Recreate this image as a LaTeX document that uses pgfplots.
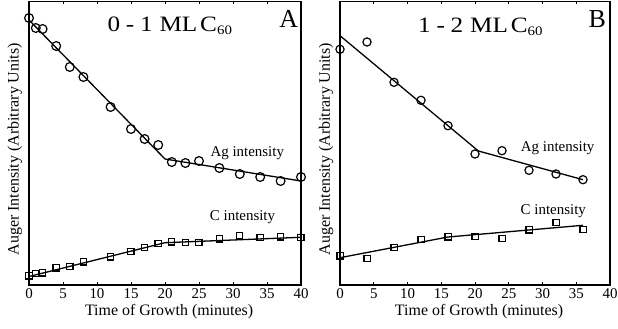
\documentclass[border=0pt]{standalone}
\usepackage{graphicx}
\usepackage{pgfplots}
\pgfplotsset{compat=1.18}
\usepackage{fontspec}
\setmainfont{Liberation Serif}
\newcommand{\ttl}[2]{\scalebox{1.15}[1]{#1\hspace{5bp}-\hspace{5bp}#2\hspace{6bp}ML\hspace{2.5bp}C\raisebox{-3.5bp}{\fontsize{13}{13}\selectfont 60}}}
\pgfplotsset{
  panel/.style={
    scale only axis, width=272bp, height=283.5bp,
    xmin=0, xmax=40, ymin=0, ymax=283.5,
    xtick={0,5,...,40}, ytick=\empty,
    xtick pos=both, tick align=inside, major tick length=3bp,
    clip=false, axis line style={line width=1.4bp},
    every tick/.style={line width=0.8bp, black},
    /pgf/number format/assume math mode=true,
    tick label style={font=\fontsize{15}{15}\selectfont},
    label style={font=\fontsize{16}{16}\selectfont},
    xlabel={Time of Growth (minutes)},
    ylabel={Auger Intensity (Arbitrary Units)},
    xlabel style={at={(axis description cs:0.515,-0.094)}, anchor=center},
    ylabel style={at={(axis description cs:-0.052,0.479)}, anchor=center},
  },
  fitline/.style={black, line width=1.3bp, no marks},
  circ/.style={only marks, mark=o, mark size=4.4bp, mark options={line width=1.2bp, black}},
  sq/.style={only marks, mark=square, mark size=3.1bp, mark options={line width=1.2bp, black}},
}
\begin{document}
\begin{tikzpicture}
\useasboundingbox (0,0) rectangle (618bp,329bp);
\begin{axis}[panel, at={(29bp,44bp)}, anchor=south west]
\addplot[fitline] coordinates {(0,265) (20,126) (40,104)};
\addplot[fitline] coordinates {(0,8.5) (20,42.3) (40,47.7)};
\addplot[circ] coordinates {(0,267) (1,257) (2,256) (4,239) (6,218) (8,208) (12,178) (15,156) (17,146) (19,140) (21,123) (23,122) (25,124) (28,117) (31,111) (34,108) (37,104) (40,108)};
\addplot[sq] coordinates {(0,9) (1,11.7) (2,12) (4,17) (6,18.3) (8,23) (12,28) (15,33.7) (17,37.7) (19,41.3) (21,43) (23,42.3) (25,42.3) (28,46) (31,49.3) (34,47.3) (37,48) (40,47.7)};
\node[font=\fontsize{22}{22}\selectfont] at (axis cs:20.7,259) {\ttl{0}{1}};
\node[font=\fontsize{26}{26}\selectfont] at (axis cs:38.2,266) {A};
\node[font=\fontsize{15}{15}\selectfont] at (axis cs:32.1,132) {Ag intensity};
\node[font=\fontsize{15}{15}\selectfont] at (axis cs:31.4,68) {C intensity};
\end{axis}
\begin{axis}[panel, width=270bp, at={(340bp,44bp)}, anchor=south west]
\addplot[fitline] coordinates {(0,249.3) (20.5,134) (36,105.3)};
\addplot[fitline] coordinates {(0,27.3) (16,48) (36,59.7)};
\addplot[circ, mark size=4.1bp] coordinates {(0,235.7) (4,243) (8,202.7) (12,184.7) (16,159.3) (20,131) (24,134.3) (28,114.7) (32,111) (36,105.3)};
\addplot[sq] coordinates {(0,29) (4,26.7) (8,37.3) (12,45.7) (16,48) (20,48.7) (24,46.7) (28,55) (32,62.3) (36,55.3)};
\node[font=\fontsize{22}{22}\selectfont] at (axis cs:20.8,258) {\ttl{1}{2}};
\node[font=\fontsize{26}{26}\selectfont] at (axis cs:38.1,266) {B};
\node[font=\fontsize{15}{15}\selectfont] at (axis cs:32.25,136.7) {Ag intensity};
\node[font=\fontsize{15}{15}\selectfont] at (axis cs:31.6,74.3) {C intensity};
\end{axis}
\end{tikzpicture}
\end{document}
